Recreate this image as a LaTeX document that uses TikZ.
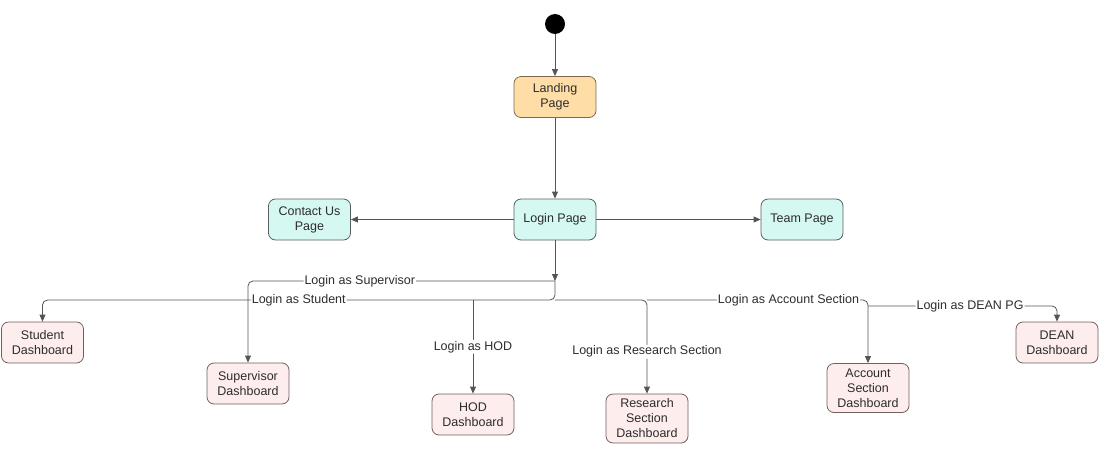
\documentclass[tikz,border=0pt]{standalone}
\usepackage{fontspec}
\setmainfont{Liberation Sans}
\usetikzlibrary{arrows.meta}
\definecolor{txt}{RGB}{45,45,45}
\definecolor{linec}{RGB}{85,85,85}
\definecolor{landfill}{RGB}{255,221,166}
\definecolor{landdraw}{RGB}{125,105,80}
\definecolor{pagefill}{RGB}{214,248,243}
\definecolor{pagedraw}{RGB}{85,95,95}
\definecolor{dashfill}{RGB}{253,237,237}
\definecolor{dashdraw}{RGB}{115,95,95}
\begin{document}
\begin{tikzpicture}[x=1pt,y=-1pt,
  box/.style={rounded corners=7pt, minimum width=82pt, minimum height=41pt, align=center,
    font=\fontsize{12.5}{15}\selectfont, text=txt, line width=0.8pt, inner sep=2pt},
  landbox/.style={box, fill=landfill, draw=landdraw},
  pagebox/.style={box, fill=pagefill, draw=pagedraw},
  dashbox/.style={box, fill=dashfill, draw=dashdraw},
  conn/.style={draw=linec, line width=0.8pt, -{Triangle[length=7pt,width=6pt]}, rounded corners=5pt},
  lbl/.style={fill=white, inner sep=1pt, font=\fontsize{12.5}{15}\selectfont, text=txt}]
\useasboundingbox (0,0) rectangle (1105,453);
\node[circle, fill=black, minimum size=20pt, inner sep=0pt] (start) at (555,24) {};
\node[landbox] (landing) at (555,97) {Landing\\Page};
\node[pagebox] (login) at (555,219.5) {Login Page};
\node[pagebox] (contact) at (309.5,219.5) {Contact Us\\Page};
\node[pagebox] (team) at (802,219.5) {Team Page};
\node[dashbox] (student) at (42.5,342.5) {Student\\Dashboard};
\node[dashbox] (sup) at (248,383.5) {Supervisor\\Dashboard};
\node[dashbox] (hod) at (473,414.5) {HOD\\Dashboard};
\node[dashbox, minimum height=49pt] (res) at (647,418.5) {Research\\Section\\Dashboard};
\node[dashbox, minimum height=49pt] (acc) at (868,388) {Account\\Section\\Dashboard};
\node[dashbox] (dean) at (1057,342.5) {DEAN\\Dashboard};
\coordinate (j) at (555,281);
\coordinate (b) at (555,300);
\coordinate (d) at (868,306);
\draw[conn] (start) -- (landing);
\draw[conn] (landing) -- (login);
\draw[conn] (login) -- (contact);
\draw[conn] (login) -- (team);
\draw[conn] (login) -- (j);
\draw[conn] (j) -| node[lbl, pos=0.318] {Login as Supervisor} (sup);
\draw[conn] (j) -- (b) -| node[lbl, pos=0.25] {Login as Student} (student);
\draw[conn] (hod |- b) -- node[lbl] {Login as HOD} (hod);
\draw[conn] (b) -| node[lbl, pos=0.776] {Login as Research Section} (res);
\draw[conn] (res |- b) -| node[lbl, pos=0.32] {Login as Account Section} (acc);
\draw[conn] (d) -| node[lbl, pos=0.27] {Login as DEAN PG} (dean);
\end{tikzpicture}
\end{document}
